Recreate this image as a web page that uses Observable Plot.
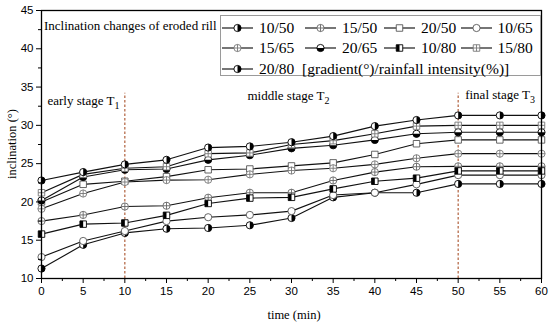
<!DOCTYPE html>
<html><head><meta charset="utf-8">
<script src="https://cdn.jsdelivr.net/npm/d3@7"></script>
<script src="https://cdn.jsdelivr.net/npm/@observablehq/plot@0.6"></script>
<style>
body{margin:0;background:#fff;}
#wrap{position:relative;width:550px;height:325px;overflow:hidden;}
#wrap svg{display:block;}
.ttl{position:absolute;font-family:"Liberation Serif","Times New Roman",serif;font-size:13px;color:#000;white-space:nowrap;}
.legend{position:absolute;left:220px;top:15px;width:321px;height:61px;border:1px solid #9a9a9a;background:#fff;box-sizing:border-box;}
.item{position:absolute;height:18px;display:flex;align-items:center;white-space:nowrap;font-family:"Liberation Serif","Times New Roman",serif;font-size:15.5px;color:#000;}
.item svg{margin-right:6px;}
</style></head><body><div id="wrap"></div>
<script>
// ---------------- data ----------------
const times = [0, 5, 10, 15, 20, 25, 30, 35, 40, 45, 50, 55, 60];
const v10_50 = [11.3, 14.4, 15.95, 16.5, 16.6, 16.95, 17.9, 20.6, 21.2, 21.2, 22.35, 22.35, 22.35];
const v15_50 = [17.5, 18.3, 19.4, 19.5, 20.55, 21.2, 21.2, 22.8, 23.9, 24.6, 24.65, 24.65, 24.65];
const v20_50 = [20.0, 22.3, 22.7, 23.3, 24.2, 24.3, 24.7, 25.1, 26.2, 27.6, 28.1, 28.1, 28.1];
const v10_65 = [12.8, 14.9, 16.2, 17.5, 18.0, 18.3, 18.8, 20.9, 21.2, 22.3, 23.5, 23.5, 23.5];
const v15_65 = [19.1, 21.1, 22.6, 22.85, 22.9, 23.6, 24.1, 24.4, 24.9, 25.7, 26.3, 26.3, 26.3];
const v20_65 = [20.2, 23.25, 24.2, 24.3, 25.5, 26.1, 27.0, 27.4, 28.1, 28.9, 29.1, 29.1, 29.1];
const v10_80 = [15.8, 17.1, 17.25, 18.25, 19.8, 20.5, 20.6, 21.7, 22.7, 23.1, 24.05, 24.05, 24.05];
const v15_80 = [21.2, 23.6, 24.4, 24.6, 26.3, 26.4, 27.5, 28.0, 28.9, 29.9, 30.0, 30.0, 30.0];
const v20_80 = [22.8, 23.9, 24.9, 25.5, 27.1, 27.25, 27.8, 28.6, 29.9, 30.7, 31.3, 31.3, 31.3];
const seriesNames = ["10/50", "15/50", "20/50", "10/65", "15/65", "20/65", "10/80", "15/80", "20/80"];
const seriesValues = [v10_50, v15_50, v20_50, v10_65, v15_65, v20_65, v10_80, v15_80, v20_80];
const stageBounds = [10, 50];
const stageNames = ["early stage T", "middle stage T", "final stage T"];
const stageSubs = ["1", "2", "3"];
const xTicks = [0, 5, 10, 15, 20, 25, 30, 35, 40, 45, 50, 55, 60];
const yTicks = [10, 15, 20, 25, 30, 35, 40, 45];
const chartTitle = "Inclination changes of eroded rill";
const legendNote = "[gradient(°)/rainfall intensity(%)]";
const xLabel = "time (min)";
const yLabel = "inclination (°)";

// ---------------- symbols / styles ----------------
const rad = s => Math.sqrt(s / Math.PI);
const SYM = {
  circle: {draw(c, s) { const r = rad(s); c.moveTo(r, 0); c.arc(0, 0, r, 0, 2 * Math.PI); c.closePath(); }},
  square: {draw(c, s) { const r = rad(s) * 0.9; c.rect(-r, -r, 2 * r, 2 * r); }},
  circlePlus: {draw(c, s) { const r = rad(s); c.moveTo(r, 0); c.arc(0, 0, r, 0, 2 * Math.PI); c.closePath(); c.moveTo(-r, 0); c.lineTo(r, 0); c.moveTo(0, -r); c.lineTo(0, r); }},
  squarePlus: {draw(c, s) { const r = rad(s) * 0.9; c.rect(-r, -r, 2 * r, 2 * r); c.moveTo(-r, 0); c.lineTo(r, 0); c.moveTo(0, -r); c.lineTo(0, r); }},
  halfRight: {draw(c, s) { const r = rad(s); c.moveTo(0, -r); c.arc(0, 0, r, -Math.PI / 2, Math.PI / 2); c.closePath(); }},
  halfLeft: {draw(c, s) { const r = rad(s); c.moveTo(0, r); c.arc(0, 0, r, Math.PI / 2, 3 * Math.PI / 2); c.closePath(); }},
  halfBottom: {draw(c, s) { const r = rad(s); c.moveTo(r, 0); c.arc(0, 0, r, 0, Math.PI); c.closePath(); }},
  squareLeft: {draw(c, s) { const r = rad(s) * 0.9; c.rect(-r, -r, r, 2 * r); }}
};
const style = {
  "10/50": {base: "circle", over: "halfRight", stroke: "#000"},
  "15/50": {base: "circlePlus", stroke: "#666"},
  "20/50": {base: "square", stroke: "#555"},
  "10/65": {base: "circle", stroke: "#555"},
  "15/65": {base: "circlePlus", stroke: "#777"},
  "20/65": {base: "circle", over: "halfBottom", stroke: "#000"},
  "10/80": {base: "square", over: "squareLeft", stroke: "#000"},
  "15/80": {base: "squarePlus", stroke: "#777"},
  "20/80": {base: "circle", over: "halfRight", stroke: "#000"}
};
const R = 3.6;

const rows = seriesNames.flatMap((s, i) => times.map((t, j) => ({s, t, v: seriesValues[i][j]})));

const dotMarks = seriesNames.flatMap(name => {
  const st = style[name];
  const d = rows.filter(r => r.s === name);
  const m = [Plot.dot(d, {x: "t", y: "v", r: R, symbol: SYM[st.base], fill: "white", stroke: st.stroke, strokeWidth: 0.9})];
  if (st.over) m.push(Plot.dot(d, {x: "t", y: "v", r: R, symbol: SYM[st.over], fill: "black", stroke: "none"}));
  return m;
});

const serif = "'Liberation Serif','Times New Roman',serif";

const chart = Plot.plot({
  width: 550, height: 325,
  marginTop: 10, marginBottom: 47, marginLeft: 41, marginRight: 9,
  style: {fontFamily: "'Liberation Sans',Arial,sans-serif", fontSize: "11.5px", color: "#000", background: "#fff"},
  x: {domain: [0, 60]},
  y: {domain: [10, 45]},
  marks: [
    Plot.ruleX(stageBounds, {x: d => d, y1: 10, y2: 34.2, stroke: "#b0603c", strokeWidth: 1.2, strokeDasharray: "2.5,2"}),
    Plot.line(rows, {x: "t", y: "v", z: "s", stroke: "#111", strokeWidth: 1.15}),
    ...dotMarks,
    Plot.text([stageNames[0]], {x: [0], y: [33.15], text: d => d, textAnchor: "start", dx: 6, fontFamily: serif, fontSize: 13}),
    Plot.text([stageNames[1]], {x: [(stageBounds[0] + stageBounds[1]) / 2], y: [33.8], text: d => d, textAnchor: "middle", dx: -3, fontFamily: serif, fontSize: 13}),
    Plot.text([stageNames[2]], {x: [stageBounds[1]], y: [34.05], text: d => d, textAnchor: "start", dx: 7, fontFamily: serif, fontSize: 13}),
    Plot.axisX({ticks: xTicks, tickSize: 5, tickPadding: 3, label: null, tickFormat: d => d}),
    Plot.axisX({ticks: xTicks.slice(0, -1).map(d => d + 2.5), tickSize: 3, label: null, tickFormat: () => ""}),
    Plot.axisY({ticks: yTicks, tickSize: 5, tickPadding: 3, label: null, tickFormat: d => d}),
    Plot.axisY({ticks: yTicks.slice(0, -1).map(d => d + 2.5), tickSize: 3, label: null, tickFormat: () => ""}),
    Plot.frame({stroke: "#000", strokeWidth: 1.3})
  ]
});

const wrap = d3.select("#wrap");
wrap.node().appendChild(chart);
const svg = d3.select(chart);

// subscripts on stage labels
svg.selectAll("text").each(function() {
  const i = stageNames.indexOf(this.textContent);
  if (i >= 0) {
    d3.select(this).append("tspan").attr("dy", 4).attr("font-size", 10).text(stageSubs[i]);
  }
});

// axis titles
svg.append("text").attr("x", 294).attr("y", 319).attr("text-anchor", "middle")
  .attr("font-family", serif).attr("font-size", 12.5).attr("fill", "#000").text(xLabel);
svg.append("text").attr("transform", "translate(13,144) rotate(-90)").attr("text-anchor", "middle")
  .attr("dominant-baseline", "middle")
  .attr("font-family", serif).attr("font-size", 12.5).attr("fill", "#000").text(yLabel);

// chart title inside plot area
wrap.append("div").attr("class", "ttl").style("left", "44px").style("top", "18px").text(chartTitle);

// legend
const leg = wrap.append("div").attr("class", "legend");
const cols = [1, 84, 163, 239.5];
const rowY = [2.5, 23, 43.5];
seriesNames.forEach((name, i) => {
  const st = style[name];
  const it = leg.append("div").attr("class", "item")
    .style("left", cols[i % 4] + "px").style("top", rowY[Math.floor(i / 4)] + "px");
  const sv = it.append("svg").attr("width", 31).attr("height", 14);
  sv.append("line").attr("x1", 0).attr("x2", 31).attr("y1", 7).attr("y2", 7).attr("stroke", "#111").attr("stroke-width", 1.15);
  const size = R * R * Math.PI;
  sv.append("path").attr("transform", "translate(15.5,7)").attr("d", d3.symbol(SYM[st.base], size)())
    .attr("fill", "white").attr("stroke", st.stroke).attr("stroke-width", 0.9);
  if (st.over) sv.append("path").attr("transform", "translate(15.5,7)").attr("d", d3.symbol(SYM[st.over], size)()).attr("fill", "black");
  it.append("span").text(i === seriesNames.length - 1 ? name + "\u00a0\u00a0" + legendNote : name);
});
</script>
</body></html>
